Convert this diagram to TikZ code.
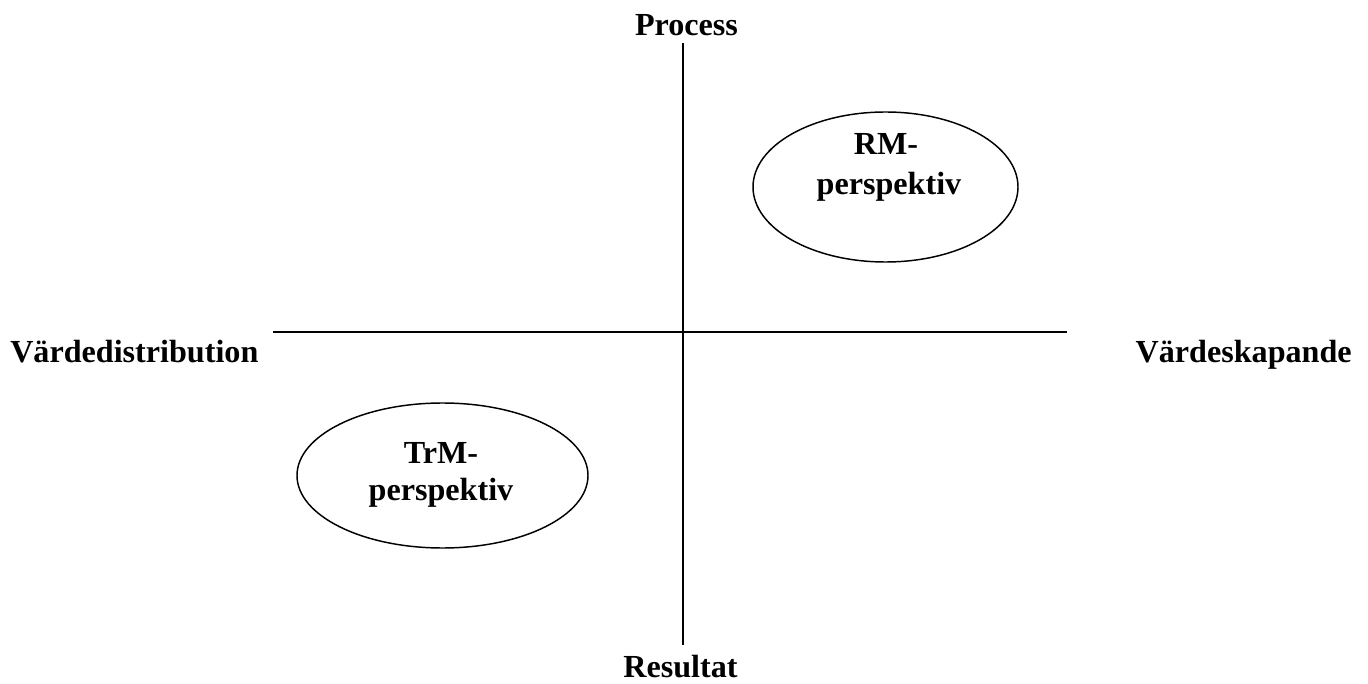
\documentclass[tikz,border=0pt]{standalone}
\usepackage{fontspec}
\setmainfont{Liberation Serif}
\usetikzlibrary{shapes.geometric}
\begin{document}
\begin{tikzpicture}[x=0.75pt,y=-0.75pt,
  lbl/.style={font=\fontsize{24.1}{29}\selectfont\bfseries, inner sep=0pt, anchor=base},
  axis/.style={line width=1.5pt, black},
  oval/.style={draw, ellipse, line width=1.1pt, inner sep=0pt}]
\useasboundingbox (0,0) rectangle (1368,684);
% axes
\coordinate (top) at (682.5,43);
\coordinate (bot) at (682.5,645);
\coordinate (lft) at (273,332);
\coordinate (rgt) at (1067,332);
\draw[axis] (top) -- (bot);
\draw[axis] (lft) -- (rgt);
% axis labels
\node[lbl] (process) at (686.5,36) {Process};
\node[lbl] (resultat) at (680.5,677) {Resultat};
\node[lbl, anchor=base west] (vdist) at (10,363) {Värdedistribution};
\node[lbl, anchor=base east] (vskap) at (1352,363) {Värdeskapande};
% ellipses
\node[oval, minimum width=198.75pt, minimum height=112.5pt] (rm) at (885.5,187) {};
\node[oval, minimum width=218.25pt, minimum height=108.75pt] (trm) at (442.5,475.5) {};
\node[lbl] (rm1) at (886,155) {RM-};
\node[lbl] (rm2) at (889,195) {perspektiv};
\node[lbl] (trm1) at (441,463) {TrM-};
\node[lbl] (trm2) at (441,500) {perspektiv};
\end{tikzpicture}
\end{document}
